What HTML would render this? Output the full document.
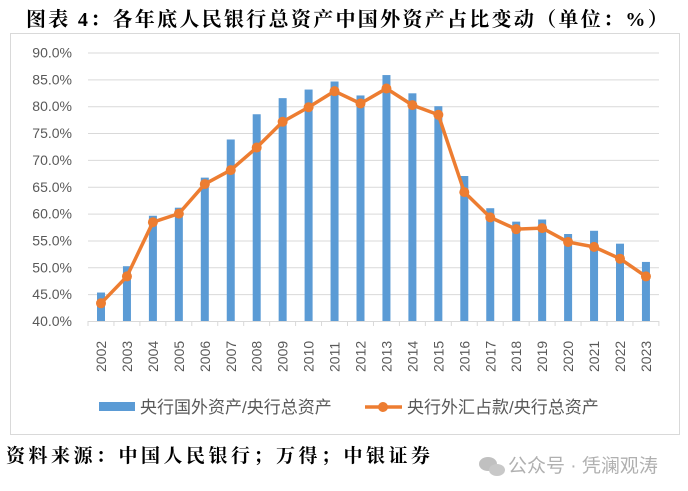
<!DOCTYPE html>
<html><head><meta charset="utf-8"><style>
html,body{margin:0;padding:0;background:#fff;width:688px;height:491px;overflow:hidden}
svg{display:block}
</style></head><body>
<svg width="688" height="491" xmlns="http://www.w3.org/2000/svg" font-family="'Liberation Sans','Noto Sans CJK SC',sans-serif">
<text x="26" y="26" font-family="'Liberation Serif','Noto Serif CJK SC',serif" font-weight="bold" font-size="20" letter-spacing="2.3" fill="#000">图表 4：各年底人民银行总资产中国外资产占比变动（单位：%）</text>
<rect x="10.5" y="33.5" width="669" height="401" fill="none" stroke="#d9d9d9" stroke-width="1"/>
<g stroke="#d9d9d9" stroke-width="1" id="grid"></g>
<g id="ylab" font-size="14" fill="#595959" text-anchor="end"></g>
<g id="bars" fill="#5b9bd5"></g>
<g id="xax" stroke="#d9d9d9"></g>
<g id="xlab" font-size="14" fill="#595959"></g>
<polyline id="line" fill="none" stroke="#ed7d31" stroke-width="3.5" stroke-linejoin="round"/>
<g id="mk" fill="#ed7d31"></g>
<rect x="99" y="402" width="36" height="9" fill="#5b9bd5"/>
<text x="140" y="413" font-size="17" fill="#595959">央行国外资产/央行总资产</text>
<line x1="365" y1="407" x2="402" y2="407" stroke="#ed7d31" stroke-width="3.5"/>
<circle cx="383" cy="407" r="5" fill="#ed7d31"/>
<text x="407" y="413" font-size="17" fill="#595959">央行外汇占款/央行总资产</text>
<text x="6" y="462" font-family="'Liberation Serif','Noto Serif CJK SC',serif" font-weight="bold" font-size="19" letter-spacing="3.5" fill="#000">资料来源：中国人民银行；万得；中银证券</text>
<text x="508" y="472" font-size="19" fill="#b0b0b0">公众号 · 凭澜观涛</text>
<ellipse cx="488" cy="464" rx="9" ry="7" fill="#c0c0c0"/>
<ellipse cx="497" cy="470" rx="8" ry="6" fill="#c8c8c8"/>
</svg>
<script>
const ns="http://www.w3.org/2000/svg";
function el(p,t,a){const e=document.createElementNS(ns,t);for(const k in a)e.setAttribute(k,a[k]);document.getElementById(p).appendChild(e);return e;}
const Y=v=>321-(v-40)*5.37;
for(let v=40;v<=90;v+=5){ if(v>40) el('grid','line',{x1:88,x2:659,y1:Y(v)+.5,y2:Y(v)+.5}); const t=el('ylab','text',{x:72,y:Y(v)+5});t.textContent=v.toFixed(1)+'%';}
const b=[45.3,50.2,59.6,61.1,66.7,73.8,78.5,81.5,83.1,84.6,82.0,85.8,82.4,80.0,67.0,61.0,58.5,58.9,56.2,56.8,54.4,51.0];
const l=[43.3,48.3,58.4,60.0,65.5,68.1,72.3,77.1,79.8,82.8,80.5,83.3,80.2,78.4,64.0,59.3,57.1,57.3,54.7,53.8,51.6,48.3];
let pts=[];
el('xax','line',{x1:88,x2:659,y1:321.5,y2:321.5});
for(let i=0;i<=22;i++){const x=88+i*25.95;el('xax','line',{x1:x,x2:x,y1:321,y2:326});}
b.forEach((v,i)=>{const cx=101+i*25.95;el('bars','rect',{x:cx-4,y:Y(v),width:8,height:321-Y(v)});
pts.push(cx+','+Y(l[i]));el('mk','circle',{cx:cx,cy:Y(l[i]),r:5});
const t=el('xlab','text',{x:0,y:0,transform:`translate(${cx+5},372) rotate(-90)`});t.textContent=2002+i;});
document.getElementById('line').setAttribute('points',pts.join(' '));
</script>
</body></html>
